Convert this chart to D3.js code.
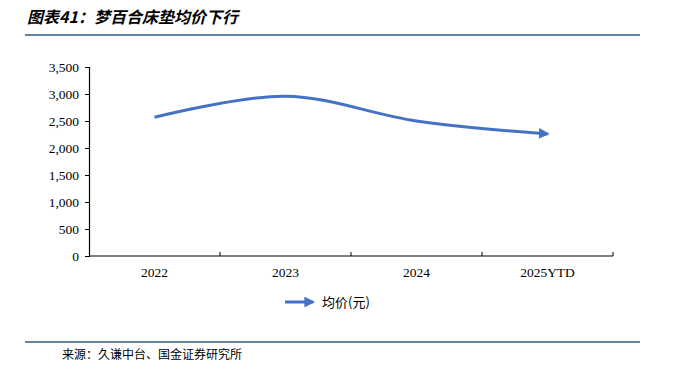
<!DOCTYPE html>
<html>
<head>
<meta charset="utf-8">
<script src="https://cdn.jsdelivr.net/npm/d3@7"></script>
<style>
  body { margin: 0; background: #fff; }
  svg { display: block; }
  .tick text { font-family: "Liberation Serif", "Times New Roman", serif; font-size: 13.5px; fill: #000; }
</style>
</head>
<body>
<div id="chart"></div>
<script>
const categories = ['2022', '2023', '2024', '2025YTD'];
const avgPrice = [2570, 2960, 2500, 2260];
const yTicks = [0, 500, 1000, 1500, 2000, 2500, 3000, 3500];
const seriesName = '均价(元)';
const titleText = '图表41：梦百合床垫均价下行';
const sourceText = '来源：久谦中台、国金证券研究所';

const W = 674, H = 378;
const margin = { top: 67, right: 61, bottom: 122, left: 89 };
const width = W - margin.left - margin.right;
const height = H - margin.top - margin.bottom;
const lineColor = '#4472C4';
const ruleColor = '#2E5D87';

const svg = d3.select('#chart')
  .append('svg')
  .attr('width', W)
  .attr('height', H);

// title + rules
svg.append('text')
  .attr('x', 27).attr('y', 23)
  .attr('font-family', '"Noto Sans CJK SC", sans-serif')
  .attr('font-size', 16).attr('font-weight', 'bold').attr('font-style', 'italic')
  .text(titleText);

svg.append('line')
  .attr('x1', 25).attr('x2', 640).attr('y1', 35).attr('y2', 35)
  .attr('stroke', ruleColor).attr('stroke-width', 1.5);

svg.append('line')
  .attr('x1', 25).attr('x2', 640).attr('y1', 342).attr('y2', 342)
  .attr('stroke', ruleColor).attr('stroke-width', 1.5);

svg.append('text')
  .attr('x', 62).attr('y', 359)
  .attr('font-family', '"Noto Sans CJK SC", serif')
  .attr('font-size', 12)
  .text(sourceText);

const defs = svg.append('defs');
defs.append('marker')
  .attr('id', 'arrow')
  .attr('viewBox', '0 0 10 10')
  .attr('refX', 8).attr('refY', 5)
  .attr('markerWidth', 3.6).attr('markerHeight', 3.6)
  .attr('orient', 'auto')
  .append('path')
  .attr('d', 'M0,0 L10,5 L0,10 Z')
  .attr('fill', lineColor);

const g = svg.append('g')
  .attr('transform', 'translate(' + margin.left + ',' + margin.top + ')');

const xScale = d3.scaleBand()
  .domain(categories)
  .range([0, width]);

const yScale = d3.scaleLinear()
  .domain([0, 3500])
  .range([height, 0]);

// y axis
const yAxis = g.append('g')
  .call(d3.axisLeft(yScale).tickValues(yTicks).tickFormat(d3.format(',')).tickSize(4).tickPadding(6));
yAxis.select('.domain').attr('stroke', '#000').attr('stroke-width', 1.2);
yAxis.selectAll('.tick line').attr('stroke', '#000');

// x axis with ticks at band boundaries pointing up
const xAxis = g.append('g')
  .attr('transform', 'translate(0,' + height + ')');
xAxis.append('line')
  .attr('x1', 0).attr('x2', width)
  .attr('stroke', '#000').attr('stroke-width', 1.2);
xAxis.selectAll('.bound')
  .data(categories)
  .enter()
  .append('line')
  .attr('class', 'bound')
  .attr('x1', d => xScale(d) + xScale.bandwidth())
  .attr('x2', d => xScale(d) + xScale.bandwidth())
  .attr('y1', 0).attr('y2', -4)
  .attr('stroke', '#000');
xAxis.selectAll('.xlabel')
  .data(categories)
  .enter()
  .append('text')
  .attr('class', 'xlabel')
  .attr('x', d => xScale(d) + xScale.bandwidth() / 2)
  .attr('y', 21)
  .attr('text-anchor', 'middle')
  .attr('font-family', '"Liberation Serif", "Times New Roman", serif')
  .attr('font-size', 13.5)
  .text(d => d);

// smoothed line
const line = d3.line()
  .x((d, i) => xScale(categories[i]) + xScale.bandwidth() / 2)
  .y(d => yScale(d))
  .curve(d3.curveCatmullRom.alpha(0));

g.append('path')
  .datum(avgPrice)
  .attr('d', line)
  .attr('fill', 'none')
  .attr('stroke', lineColor)
  .attr('stroke-width', 3)
  .attr('stroke-linecap', 'butt')
  .attr('marker-end', 'url(#arrow)');

// legend
const legend = svg.append('g').attr('transform', 'translate(285,302)');
legend.append('line')
  .attr('x1', 0).attr('x2', 28).attr('y1', 0).attr('y2', 0)
  .attr('stroke', lineColor).attr('stroke-width', 3)
  .attr('marker-end', 'url(#arrow)');
legend.append('text')
  .attr('x', 37).attr('y', 5)
  .attr('font-family', '"Noto Sans CJK SC", sans-serif')
  .attr('font-size', 13)
  .text(seriesName);
</script>
</body>
</html>
